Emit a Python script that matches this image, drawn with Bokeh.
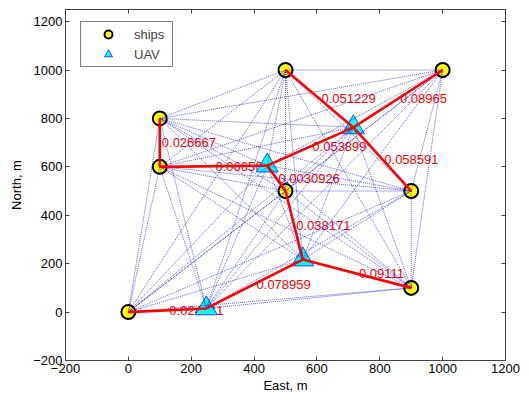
from itertools import combinations
from bokeh.plotting import figure
from bokeh.models import Range1d, LinearAxis, FixedTicker, Legend, LegendItem
from bokeh.core.properties import value
from bokeh.embed import file_html
from bokeh.resources import INLINE

# ---- data ----
ship_x = [0, 100, 100, 500, 1000, 500, 900, 900]
ship_y = [0, 800, 600, 1000, 1000, 500, 500, 100]
uav_x = [248, 555, 442, 716]
uav_y = [15, 217, 605, 763]

# links of the selected network (S = ship index, U = UAV index)
link_from = ["S0", "U0", "U1", "U1", "S5", "U2", "S2", "U2", "U3", "U3", "U3"]
link_to = ["U0", "U1", "S5", "S7", "U2", "S2", "S1", "U3", "S3", "S4", "S6"]
link_cost = ["0.024041", "0.078959", "0.038171", "0.09111", "0.0030926", "0.066564",
             "0.026667", "0.053899", "0.051229", "0.08965", "0.058591"]

x_ticks = [-200, 0, 200, 400, 600, 800, 1000, 1200]
y_ticks = [-200, 0, 200, 400, 600, 800, 1000, 1200]

FONT = "Liberation Sans"

# ---- node positions ----
pos = {}
for i, (x, y) in enumerate(zip(ship_x, ship_y)):
    pos[f"S{i}"] = (x, y)
for i, (x, y) in enumerate(zip(uav_x, uav_y)):
    pos[f"U{i}"] = (x, y)
names = list(pos.keys())

mesh_xs, mesh_ys = [], []
for a, b in combinations(names, 2):
    mesh_xs.append([pos[a][0], pos[b][0]])
    mesh_ys.append([pos[a][1], pos[b][1]])

red_xs = [[pos[a][0], pos[b][0]] for a, b in zip(link_from, link_to)]
red_ys = [[pos[a][1], pos[b][1]] for a, b in zip(link_from, link_to)]
mid_x = [(pos[a][0] + pos[b][0]) / 2 for a, b in zip(link_from, link_to)]
mid_y = [(pos[a][1] + pos[b][1]) / 2 for a, b in zip(link_from, link_to)]

p = figure(width=529, height=401,
           x_range=Range1d(-200, 1200), y_range=Range1d(-200, 1250),
           output_backend="svg", toolbar_location=None,
           min_border_left=65, min_border_right=24, min_border_top=9, min_border_bottom=41,
           background_fill_color="white", border_fill_color="white",
           outline_line_color="#444444")
p.xgrid.visible = False
p.ygrid.visible = False


def style_axis(ax, ticks, show_labels=True):
    ax.ticker = FixedTicker(ticks=ticks)
    ax.major_tick_in = 4
    ax.major_tick_out = 0
    ax.minor_tick_in = 0
    ax.minor_tick_out = 0
    ax.axis_line_color = "#444444"
    ax.major_tick_line_color = "#444444"
    ax.major_label_text_font = FONT
    ax.major_label_text_color = "black"
    ax.axis_label_text_font = FONT
    ax.axis_label_text_font_style = "normal"
    ax.axis_label_text_font_size = "13px"
    ax.axis_label_text_color = "black"
    if show_labels:
        ax.major_label_text_font_size = "13px"
        ax.major_label_standoff = 3
    else:
        ax.major_label_overrides = {t: "" for t in ticks}
        ax.major_label_text_font_size = "0px"
        ax.major_label_standoff = 0


style_axis(p.xaxis[0], x_ticks)
style_axis(p.yaxis[0], y_ticks)
p.xaxis[0].axis_label = "East, m"
p.xaxis[0].axis_label_standoff = 2
p.yaxis[0].axis_label = "North, m"
p.yaxis[0].axis_label_standoff = 6

ax_r = LinearAxis()
style_axis(ax_r, y_ticks, show_labels=False)
p.add_layout(ax_r, "right")
ax_t = LinearAxis()
style_axis(ax_t, x_ticks, show_labels=False)
p.add_layout(ax_t, "above")

# ---- labels (drawn first; markers overlap them as in the original) ----
p.text(x=mid_x, y=mid_y, text=link_cost, x_offset=2,
       text_align="left", text_baseline="middle",
       text_font=value(FONT), text_font_size="13px", text_color="red")

# ---- markers ----
ships_r = p.scatter(ship_x, ship_y, marker="circle", size=14,
                    fill_color="yellow", line_color="black", line_width=2)
uav_r = p.scatter(uav_x, uav_y, marker="triangle", size=22,
                  fill_color="cyan", line_color="blue", line_width=0.7)

# ---- mesh and selected links ----
p.multi_line(mesh_xs, mesh_ys, line_color="#0000ee", line_alpha=0.7,
             line_width=0.9, line_dash="1 1")
p.multi_line(red_xs, red_ys, line_color="red", line_width=2.6)

legend = Legend(items=[LegendItem(label="ships", renderers=[ships_r]),
                       LegendItem(label="UAV", renderers=[uav_r])],
                location=(15, 293), glyph_width=50, glyph_height=20,
                label_standoff=1, label_width=36, label_height=20,
                padding=2, spacing=0, margin=0,
                border_line_color="black", border_line_width=1,
                label_text_font=FONT, label_text_font_size="13px",
                background_fill_color="white", background_fill_alpha=1)
p.add_layout(legend)

open("out.html", "w").write(file_html(p, INLINE))
